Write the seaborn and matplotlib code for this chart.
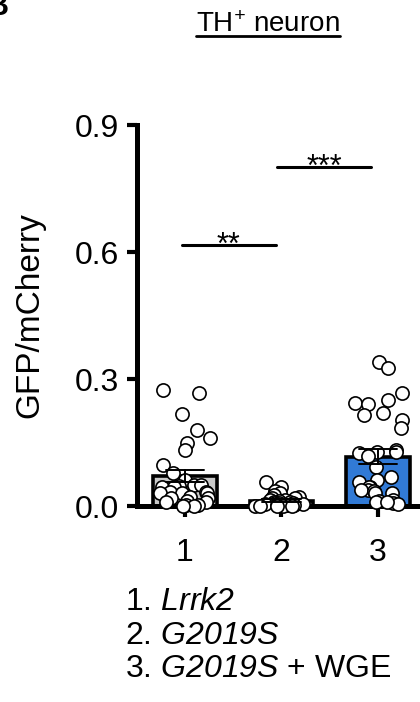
import numpy as np
import pandas as pd
import matplotlib
matplotlib.use("Agg")
import matplotlib.pyplot as plt
import seaborn as sns

# ---------------- data ----------------
groups = ["1", "2", "3"]
lrrk2 = [0.275, 0.268, 0.217, 0.180, 0.161, 0.148, 0.132, 0.097, 0.077, 0.061,
         0.050, 0.050, 0.048, 0.046, 0.046, 0.034, 0.034, 0.030, 0.030, 0.030,
         0.022, 0.018, 0.018, 0.012, 0.010, 0.010, 0.002, 0.002, 0.000, 0.000]
g2019s = [0.057, 0.045, 0.035, 0.030, 0.025, 0.022, 0.020, 0.018, 0.015, 0.014,
          0.012, 0.010, 0.010, 0.008, 0.008, 0.006, 0.005, 0.005, 0.004, 0.003,
          0.003, 0.002, 0.002, 0.001, 0.001, 0.000, 0.000, 0.000]
g2019s_wge = [0.341, 0.325, 0.266, 0.251, 0.243, 0.240, 0.219, 0.215, 0.203, 0.184,
              0.132, 0.128, 0.128, 0.125, 0.117, 0.093, 0.069, 0.061, 0.057, 0.046,
              0.046, 0.038, 0.038, 0.035, 0.030, 0.030, 0.014, 0.012, 0.010, 0.006,
              0.005, 0.010]
bar_colors = ["#c9c9c9", "#c9c9c9", "#1677f2"]
yticks = [0.0, 0.3, 0.6, 0.9]
ytick_labels = ["0.0", "0.3", "0.6", "0.9"]
ylabel = "GFP/mCherry"
title = "TH$^{+}$ neuron"
legend_lines = ["1. $Lrrk2$",
                "2. $G2019S$",
                "3. $G2019S$ + WGE"]
sig_labels = ["**", "***"]
sig_spans = [(-0.03, 0.94), (0.95, 1.93)]
sig_heights = [0.617, 0.800]

# ---------------- style ----------------
sns.set_theme(style="ticks")
plt.rcParams['font.family'] = ['Liberation Sans', 'DejaVu Sans']
plt.rcParams['mathtext.fontset'] = 'custom'
plt.rcParams['mathtext.rm'] = 'Liberation Sans:italic'
plt.rcParams['mathtext.it'] = 'Liberation Sans:italic'
plt.rcParams['mathtext.bf'] = 'Liberation Sans:bold'
plt.rcParams['text.color'] = 'black'
plt.rcParams['axes.labelcolor'] = 'black'
plt.rcParams['xtick.color'] = 'black'
plt.rcParams['ytick.color'] = 'black'

df = pd.DataFrame({
    "group": ["1"] * len(lrrk2) + ["2"] * len(g2019s) + ["3"] * len(g2019s_wge),
    "value": lrrk2 + g2019s + g2019s_wge,
})

fig = plt.figure(figsize=(4.2, 7.02), dpi=100)
ax = fig.add_axes([0.326, 0.2792, 0.674, 0.5427])

sns.barplot(data=df, x="group", y="value", order=groups, hue="group",
            hue_order=groups, palette=bar_colors, legend=False,
            errorbar="se", capsize=0.4,
            err_kws={"color": "black", "linewidth": 1.4},
            width=0.66, edgecolor="black", linewidth=2.6, ax=ax, zorder=2)
for ln in ax.lines:
    ln.set_zorder(5)

np.random.seed(7)
sns.stripplot(data=df, x="group", y="value", order=groups, color="white",
              edgecolor="black", linewidth=1.2, size=9.5, jitter=0.27,
              ax=ax, zorder=3, clip_on=False)

ax.set_xlim(-0.497, 2.435)
ax.set_ylim(0, 0.9)
ax.set_yticks(yticks)
ax.set_yticklabels(ytick_labels)
ax.set_xticks(range(len(groups)))
ax.set_xticklabels(groups)
ax.set_xlabel("")
ax.set_ylabel(ylabel, fontsize=24, color="black")
ax.yaxis.set_label_coords(-0.322, 0.5)

sns.despine(ax=ax)
for side in ["left", "bottom"]:
    ax.spines[side].set_linewidth(3.6)
    ax.spines[side].set_color("black")
ax.spines["left"].set_bounds(0, 0.9)
ax.tick_params(axis="y", length=7, width=3, pad=6, labelsize=23, colors="black")
ax.tick_params(axis="x", length=8, width=3, pad=15, labelsize=23, colors="black")

# significance bars
for (x0, x1), h, lab in zip(sig_spans, sig_heights, sig_labels):
    ax.plot([x0, x1], [h, h], color="black", lw=2.2, clip_on=False)
    ax.text((x0 + x1) / 2, h - 0.021, lab, ha="center", va="baseline",
            fontsize=22, color="black")

# title with underline
t = fig.text(268 / 420, 1 - 32 / 702, title, ha="center", va="baseline",
             fontsize=20, color="black")
fig.canvas.draw()
bb = t.get_window_extent(renderer=fig.canvas.get_renderer())
uy = 1 - 36 / 702
fig.add_artist(plt.Line2D([bb.x0 / 420, bb.x1 / 420], [uy, uy],
                          transform=fig.transFigure, color="black", lw=2.0))

# panel letter (cut off at left)
fig.text(9 / 420, 1 - 15 / 702, "B", ha="right", va="baseline",
         fontsize=22, fontweight="bold", color="black")

# legend lines
for i, line in enumerate(legend_lines):
    fig.text(125 / 420, 1 - (602 + 33.5 * i) / 702, line, ha="left",
             va="center", fontsize=23, color="black")

fig.savefig("out.png", dpi=100)
